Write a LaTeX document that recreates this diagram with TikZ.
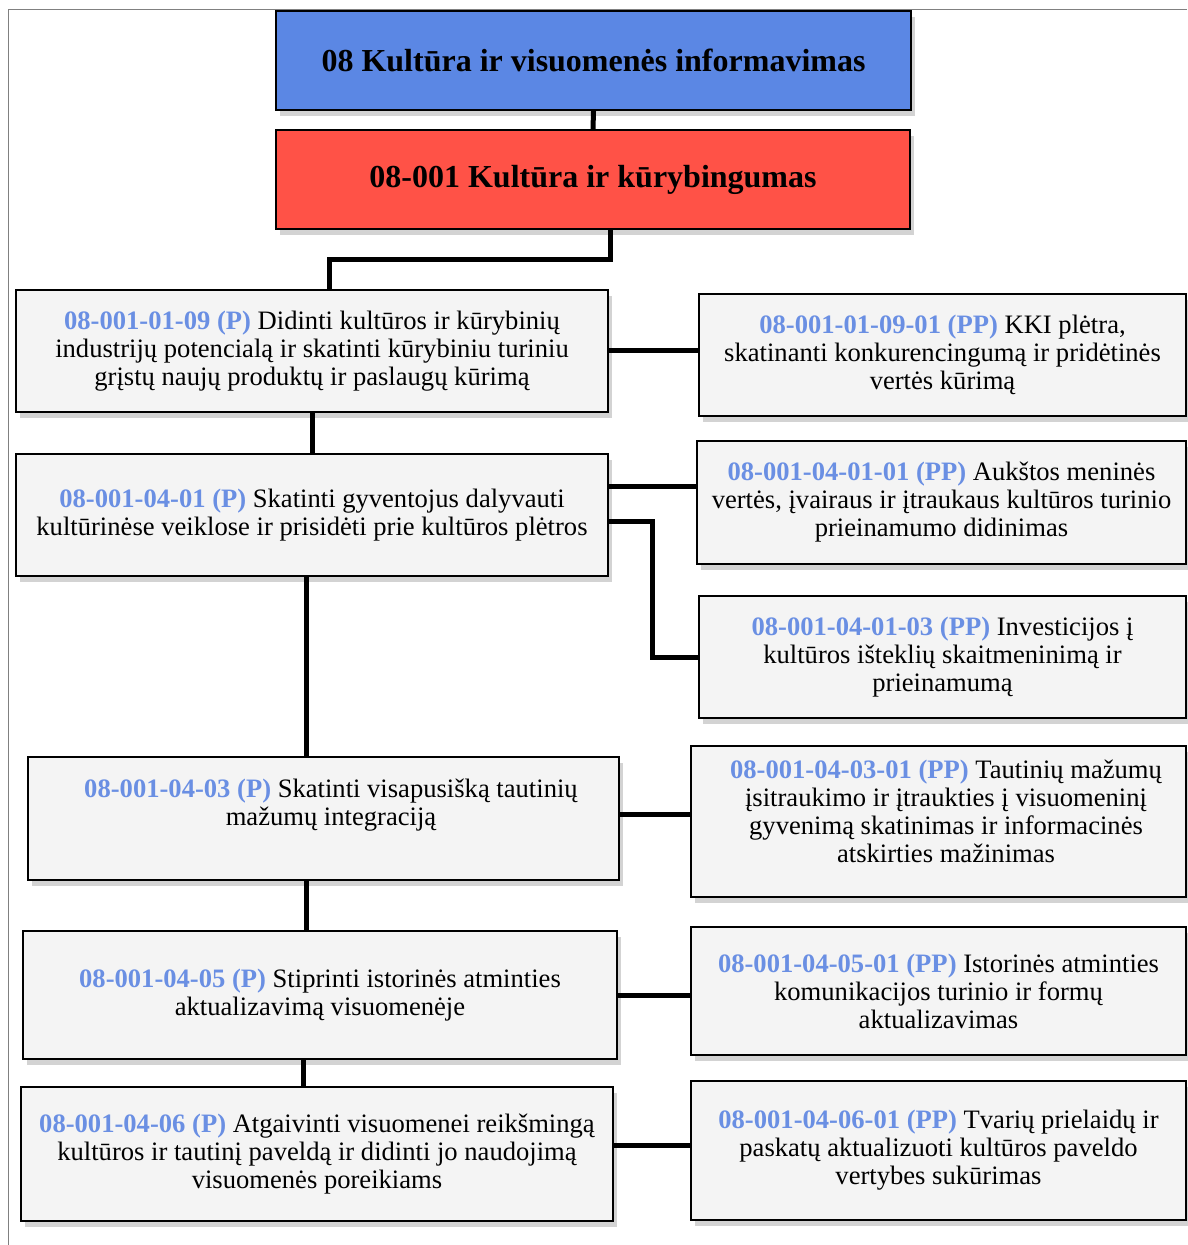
\documentclass[tikz,border=0pt]{standalone}
\usepackage{fontspec}
\setmainfont{Liberation Serif}
\usetikzlibrary{shadows}
\definecolor{topblue}{HTML}{5B87E4}
\definecolor{topred}{HTML}{FF5247}
\definecolor{codeblue}{HTML}{6A8FE3}
\definecolor{boxgray}{HTML}{F4F4F4}
\newcommand{\code}[1]{\textcolor{codeblue}{\textbf{#1}}}
\tikzset{
  box/.style={draw=black, line width=1pt, fill=boxgray, align=center, inner sep=0pt,
    font=\fontsize{13.3}{14}\selectfont,
    drop shadow={shadow xshift=2pt, shadow yshift=-3pt, opacity=0.35}},
  headbox/.style={box, font=\fontsize{16}{19}\selectfont\bfseries},
  boxtext/.style={align=center, inner sep=0pt, font=\fontsize{13.3}{14}\selectfont},
  link/.style={line width=2.5pt, black},
  frame/.style={draw=gray, line width=0.5pt}
}
\begin{document}
\begin{tikzpicture}[x=0.5pt,y=-0.5pt]
  \useasboundingbox (0,0) rectangle (1187,1245);
  \draw[frame] (8,1245) |- (1187,10);
  \node[headbox, fill=topblue, minimum width=317.5pt, minimum height=49.5pt] (blue) at (593.5,60.5) {08 Kultūra ir visuomenės informavimas};
  \node[headbox, fill=topred, minimum width=317pt, minimum height=49.5pt] (red) at (593,179.5) {08-001 Kultūra ir kūrybingumas};

  \node[box, minimum width=296pt, minimum height=61pt] (p1) at (312,351) {\code{08-001-01-09 (P)} Didinti kultūros ir kūrybinių\\ industrijų potencialą ir skatinti kūrybiniu turiniu\\ grįstų naujų produktų ir paslaugų kūrimą};
  \node[box, minimum width=296pt, minimum height=61pt] (p2) at (312,515) {\code{08-001-04-01 (P)} Skatinti gyventojus dalyvauti\\ kultūrinėse veiklose ir prisidėti prie kultūros plėtros};
  \node[box, minimum width=295.5pt, minimum height=61.5pt] (p3) at (323.5,818.5) {};
  \node[boxtext] (p3t) at (331,805) {\code{08-001-04-03 (P)} Skatinti visapusišką tautinių\\ mažumų integraciją};
  \node[box, minimum width=297pt, minimum height=64pt] (p4) at (320,995) {\code{08-001-04-05 (P)} Stiprinti istorinės atminties\\ aktualizavimą visuomenėje};
  \node[box, minimum width=296pt, minimum height=67pt] (p5) at (317,1154) {\code{08-001-04-06 (P)} Atgaivinti visuomenei reikšmingą\\ kultūros ir tautinį paveldą ir didinti jo naudojimą\\ visuomenės poreikiams};

  \node[box, minimum width=243.5pt, minimum height=61pt] (r1) at (942.5,355) {\code{08-001-01-09-01 (PP)} KKI plėtra,\\ skatinanti konkurencingumą ir pridėtinės\\ vertės kūrimą};
  \node[box, minimum width=244.5pt, minimum height=61.5pt] (r2) at (941.5,502.5) {\code{08-001-04-01-01 (PP)} Aukštos meninės\\ vertės, įvairaus ir įtraukaus kultūros turinio\\ prieinamumo didinimas};
  \node[box, minimum width=243.5pt, minimum height=61pt] (r3) at (942.5,657) {\code{08-001-04-01-03 (PP)} Investicijos į\\ kultūros išteklių skaitmeninimą ir\\ prieinamumą};
  \node[box, minimum width=247.5pt, minimum height=75.5pt] (r4) at (938.5,821.5) {};
  \node[boxtext] (r4t) at (946,811) {\code{08-001-04-03-01 (PP)} Tautinių mažumų\\ įsitraukimo ir įtraukties į visuomeninį\\ gyvenimą skatinimas ir informacinės\\ atskirties mažinimas};
  \node[box, minimum width=247.5pt, minimum height=64pt] (r5) at (938.5,991) {\code{08-001-04-05-01 (PP)} Istorinės atminties\\ komunikacijos turinio ir formų\\ aktualizavimas};
  \node[box, minimum width=247.5pt, minimum height=69.5pt] (r6) at (938.5,1150.5) {\code{08-001-04-06-01 (PP)} Tvarių prielaidų ir\\ paskatų aktualizuoti kultūros paveldo\\ vertybes sukūrimas};

  \coordinate (j2) at ([xshift=-3pt]p2.south);
  \coordinate (j3) at ([xshift=-8.75pt]p3.south);
  \coordinate (j4) at ([xshift=-8.5pt]p4.south);
  \coordinate (k2) at ([yshift=14.5pt]p2.east);
  \coordinate (k3) at ([yshift=2.25pt]p3.east);
  \coordinate (k5) at ([yshift=4.5pt]p5.east);

  \draw[link] (blue.south) -- (red.north);
  \draw[link] ([xshift=8.5pt]red.south) -- ++(0,30) -| ([xshift=8.5pt]p1.north);
  \draw[link] (p1.south) -- (p2.north);
  \draw[link] (j2) -- (j2 |- p3.north);
  \draw[link] (j3) -- (j3 |- p4.north);
  \draw[link] (j4) -- (j4 |- p5.north);
  \draw[link] (p1.east) -- (p1.east -| r1.west);
  \draw[link] (k2) -- (k2 -| r2.west);
  \draw[link] ([yshift=-3pt]p2.east) -- ++(43,0) |- (r3.west);
  \draw[link] (k3) -- (k3 -| r4.west);
  \draw[link] (p4.east) -- (p4.east -| r5.west);
  \draw[link] (k5) -- (k5 -| r6.west);
\end{tikzpicture}
\end{document}
